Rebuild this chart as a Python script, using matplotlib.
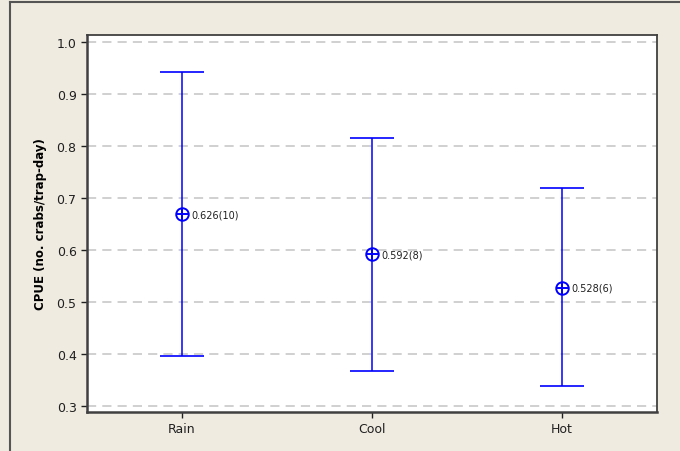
import matplotlib.pyplot as plt
from matplotlib.lines import Line2D

# groups and interval values
groups = ['Rain', 'Cool', 'Hot']
means = [0.668, 0.591, 0.527]
upper = [0.942, 0.815, 0.718]
lower = [0.396, 0.367, 0.338]
labels = ['0.626(10)', '0.592(8)', '0.528(6)']
yticks = [0.3, 0.4, 0.5, 0.6, 0.7, 0.8, 0.9, 1.0]

bg = '#EFEBE1'
blue = '#0000FF'

fig = plt.figure(figsize=(6.8, 4.52), dpi=100, facecolor=bg)
ax = fig.add_axes([87 / 680, 1 - 413 / 452, 570 / 680, 377.5 / 452])

# outer frame (top and left edge of the window)
fig.add_artist(Line2D([10 / 680, 1.0], [1 - 3 / 452, 1 - 3 / 452],
                      transform=fig.transFigure, color='#555555', lw=1.5))
fig.add_artist(Line2D([10 / 680, 10 / 680], [0.0, 1 - 3 / 452],
                      transform=fig.transFigure, color='#555555', lw=1.5))

x = list(range(1, len(groups) + 1))
yerr = [[m - lo for m, lo in zip(means, lower)],
        [up - m for m, up in zip(means, upper)]]

for yv in yticks:
    ax.axhline(yv, color='#C4C4C4', lw=1.1, ls=(0, (6, 4)), zorder=1)

ax.errorbar(x, means, yerr=yerr, fmt='none', ecolor=blue, elinewidth=1.1,
            capsize=16, capthick=1.2, zorder=3)
ax.plot(x, means, 'o', ms=9, mfc='none', mec=blue, mew=1.4, zorder=4)
ax.plot(x, means, '+', ms=9, mec=blue, mew=1.4, zorder=4)

for xi, m, lab in zip(x, means, labels):
    ax.annotate(lab, (xi, m), xytext=(7, 0), textcoords='offset points',
                va='center', ha='left', fontsize=7, color='#202020')

ax.set_xlim(0.5, 3.5)
ax.set_ylim(0.2885, 1.0135)
ax.set_xticks(x)
ax.set_xticklabels(groups)
ax.set_yticks(yticks)
ax.set_yticklabels([f'{v:.1f}' for v in yticks])
ax.tick_params(labelsize=9, colors='#202020', length=4, width=1)
ax.set_ylabel('CPUE (no. crabs/trap-day)', fontsize=8.5, fontweight='bold',
              labelpad=7)

for side in ['left', 'bottom']:
    ax.spines[side].set_linewidth(1.8)
    ax.spines[side].set_color('#404040')
for side in ['top', 'right']:
    ax.spines[side].set_linewidth(1.3)
    ax.spines[side].set_color('#404040')

fig.savefig('out.png', dpi=100, facecolor=bg)
